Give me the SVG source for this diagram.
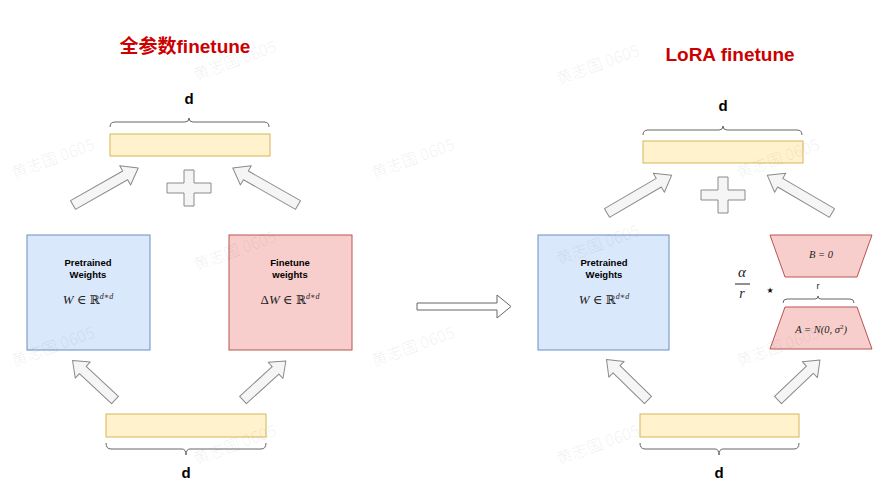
<svg xmlns="http://www.w3.org/2000/svg" width="885" height="489" viewBox="0 0 885 489">
<defs>
<style>
.title{font-family:"Liberation Sans","Noto Sans CJK SC",sans-serif;font-weight:bold;font-size:19px;fill:#cc0000;text-anchor:middle}
.dlab{font-family:"Liberation Sans",sans-serif;font-weight:bold;font-size:15px;fill:#000;text-anchor:middle}
.lbl{font-family:"Liberation Sans",sans-serif;font-weight:bold;font-size:9.5px;fill:#000;text-anchor:middle}
.math{font-family:"Liberation Serif","DejaVu Serif",serif;font-size:13px;fill:#222;text-anchor:middle}
.mathS{font-family:"Liberation Serif","DejaVu Serif",serif;font-size:10.5px;fill:#222;text-anchor:middle;font-style:italic}
.bb{font-family:"DejaVu Serif",serif;font-size:12px}
.bar{fill:#fff2cc;stroke:#d6b656;stroke-width:1}
.blue{fill:#dae8fc;stroke:#6c8ebf;stroke-width:1}
.red{fill:#f8cecc;stroke:#b85450;stroke-width:1}
.brace{fill:none;stroke:#666;stroke-width:1}
.barrow{fill:#f5f5f5;stroke:#8a8a8a;stroke-width:1;stroke-linejoin:round}
.wm{font-family:"Noto Sans CJK SC",sans-serif;font-size:16px;fill:#000;fill-opacity:0.06;text-anchor:middle}
</style>
<path id="arrowL" d="M0,-5 L60,-5 L60,-11 L75,0 L60,11 L60,5 L0,5 Z"/>
<path id="arrowS" d="M0,-5 L44,-5 L44,-11 L58,0 L44,11 L44,5 L0,5 Z"/>
<path id="plus" d="M-5,-18 H5 V-5 H22 V5 H5 V18 H-5 V5 H-22 V-5 H-5 Z"/>
</defs>
<rect width="885" height="489" fill="#fff"/>

<!-- Titles -->
<text class="title" x="185" y="53">全参数finetune</text>
<text class="title" x="730" y="61">LoRA finetune</text>

<!-- Left section -->
<g id="left-top-bar">
<text class="dlab" x="189" y="104">d</text>
<path class="brace" d="M110,127 Q110,122 115,122 L185,122 Q189,122 189,118 Q189,122 193,122 L264,122 Q269,122 269,127"/>
<rect class="bar" x="110" y="134" width="160" height="22"/>
</g>
<g id="left-pretrained">
<rect class="blue" x="27" y="235" width="123" height="115"/>
<text class="lbl" x="88" y="266">Pretrained</text>
<text class="lbl" x="88" y="278">Weights</text>
<text class="math" x="88" y="304"><tspan font-style="italic">W</tspan> ∈ <tspan class="bb">ℝ</tspan><tspan font-size="8" dy="-5" font-style="italic">d∗d</tspan></text>
</g>
<g id="left-finetune">
<rect class="red" x="229" y="235" width="123" height="115"/>
<text class="lbl" x="290" y="266">Finetune</text>
<text class="lbl" x="290" y="278">weights</text>
<text class="math" x="290" y="304">Δ<tspan font-style="italic">W</tspan> ∈ <tspan class="bb">ℝ</tspan><tspan font-size="8" dy="-5" font-style="italic">d∗d</tspan></text>
</g>
<g id="left-bottom-bar">
<rect class="bar" x="106" y="414" width="160" height="23"/>
<path class="brace" d="M106,443 Q106,449 111,449 L182,449 Q186,449 186,455 Q186,449 190,449 L261,449 Q266,449 266,443"/>
<text class="dlab" x="186" y="478">d</text>
</g>
<g id="left-plus"><use href="#plus" class="barrow" transform="translate(189,188)"/></g>

<!-- Middle arrow -->
<g id="transition-arrow">
<path d="M417,303 L497,303 L497,295 L511,306.5 L497,318 L497,310 L417,310 Z" fill="#fff" stroke="#666" stroke-width="1"/>
</g>

<!-- Right section -->
<g id="right-top-bar">
<text class="dlab" x="723" y="111">d</text>
<path class="brace" d="M643,135 Q643,130 648,130 L719,130 Q723,130 723,126 Q723,130 727,130 L797,130 Q802,130 802,135"/>
<rect class="bar" x="643" y="141" width="160" height="22"/>
</g>
<g id="right-pretrained">
<rect class="blue" x="538" y="235" width="131" height="115"/>
<text class="lbl" x="604" y="266">Pretrained</text>
<text class="lbl" x="604" y="278">Weights</text>
<text class="math" x="604" y="304"><tspan font-style="italic">W</tspan> ∈ <tspan class="bb">ℝ</tspan><tspan font-size="8" dy="-5" font-style="italic">d∗d</tspan></text>
</g>
<g id="lora-B">
<path class="red" d="M770,235 L872,235 L857,277 L785,277 Z"/>
<text class="mathS" x="821" y="258">B = 0</text>
</g>
<g id="lora-A">
<path class="red" d="M785,307 L857,307 L872,349 L770,349 Z"/>
<text class="mathS" x="821" y="333">A = N(0, σ<tspan font-size="7" dy="-4" font-style="normal">2</tspan><tspan dy="4">)</tspan></text>
</g>
<g id="lora-r">
<text x="818" y="289" font-family="Liberation Sans,sans-serif" font-size="9" fill="#222" text-anchor="middle">r</text>
<path class="brace" d="M783,303 Q783,299 787,299 L815,299 Q818,299 818,296 Q818,299 821,299 L850,299 Q854,299 854,303"/>
</g>
<g id="lora-scale">
<text x="742" y="277" font-family="Liberation Serif,serif" font-style="italic" font-size="15" fill="#222" text-anchor="middle">α</text>
<line x1="735" y1="284" x2="750" y2="284" stroke="#222" stroke-width="1"/>
<text x="742" y="298" font-family="Liberation Serif,serif" font-style="italic" font-size="14" fill="#222" text-anchor="middle">r</text>
<text x="770" y="293" font-family="DejaVu Sans,sans-serif" font-size="8" fill="#111" text-anchor="middle">★</text>
</g>
<g id="right-bottom-bar">
<rect class="bar" x="640" y="414" width="159" height="23"/>
<path class="brace" d="M640,443 Q640,449 645,449 L715,449 Q719,449 719,455 Q719,449 723,449 L794,449 Q799,449 799,443"/>
<text class="dlab" x="719" y="478">d</text>
</g>
<g id="right-plus"><use href="#plus" class="barrow" transform="translate(723,195)"/></g>

<!-- Connectors -->
<g id="connectors">
<use href="#arrowL" class="barrow" transform="translate(73,205) rotate(-29.6)"/>
<use href="#arrowL" class="barrow" transform="translate(298,205) rotate(-150.4)"/>
<use href="#arrowS" class="barrow" transform="translate(115,400) rotate(-137.1)"/>
<use href="#arrowS" class="barrow" transform="translate(243,400) rotate(-42.3)"/>
<use href="#arrowL" class="barrow" transform="translate(607,213) rotate(-30.3)"/>
<use href="#arrowL" class="barrow" transform="translate(832,213) rotate(-149.7)"/>
<use href="#arrowS" class="barrow" transform="translate(648,400) rotate(-135.7)"/>
<use href="#arrowS" class="barrow" transform="translate(778,400) rotate(-43.6)"/>
</g>

<!-- Watermarks -->
<g id="watermarks">
<text class="wm" transform="translate(237,66) rotate(-20)">黄志国 0605</text>
<text class="wm" transform="translate(600,70) rotate(-20)">黄志国 0605</text>
<text class="wm" transform="translate(55,164) rotate(-20)">黄志国 0605</text>
<text class="wm" transform="translate(415,164) rotate(-20)">黄志国 0605</text>
<text class="wm" transform="translate(780,164) rotate(-20)">黄志国 0605</text>
<text class="wm" transform="translate(237,256) rotate(-20)">黄志国 0605</text>
<text class="wm" transform="translate(600,250) rotate(-20)">黄志国 0605</text>
<text class="wm" transform="translate(55,352) rotate(-20)">黄志国 0605</text>
<text class="wm" transform="translate(415,352) rotate(-20)">黄志国 0605</text>
<text class="wm" transform="translate(780,352) rotate(-20)">黄志国 0605</text>
<text class="wm" transform="translate(237,450) rotate(-20)">黄志国 0605</text>
<text class="wm" transform="translate(600,450) rotate(-20)">黄志国 0605</text>
</g>
</svg>
